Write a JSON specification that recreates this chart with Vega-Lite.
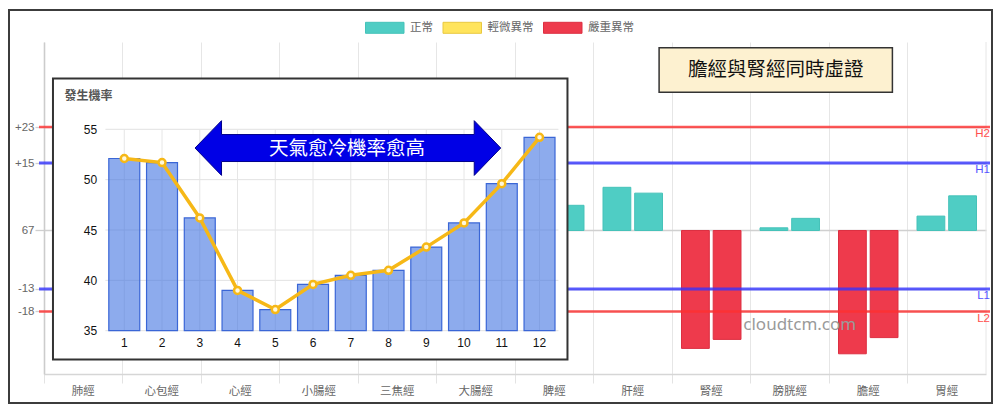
{
  "$schema": "https://vega.github.io/schema/vega-lite/v6.json",
  "width": 942,
  "height": 332,
  "autosize": {"type": "none"},
  "padding": {"left": 44, "top": 42, "right": 14, "bottom": 42},
  "background": "#ffffff",
  "config": {
    "view": {"stroke": null},
    "font": "Noto Sans CJK TC",
    "legend": {"padding": 0}
  },
  "datasets": {
    "bars": [
      {"meridian": "脾經", "side": "右", "value": 5.6, "status": "正常"},
      {"meridian": "肝經", "side": "左", "value": 9.6, "status": "正常"},
      {"meridian": "肝經", "side": "右", "value": 8.3, "status": "正常"},
      {"meridian": "腎經", "side": "左", "value": -26.2, "status": "嚴重異常"},
      {"meridian": "腎經", "side": "右", "value": -24.2, "status": "嚴重異常"},
      {"meridian": "膀胱經", "side": "左", "value": 0.6, "status": "正常"},
      {"meridian": "膀胱經", "side": "右", "value": 2.7, "status": "正常"},
      {"meridian": "膽經", "side": "左", "value": -27.4, "status": "嚴重異常"},
      {"meridian": "膽經", "side": "右", "value": -23.8, "status": "嚴重異常"},
      {"meridian": "胃經", "side": "左", "value": 3.2, "status": "正常"},
      {"meridian": "胃經", "side": "右", "value": 7.7, "status": "正常"}
    ],
    "lines": [
      {"line": "H2", "value": 23, "level": 2},
      {"line": "H1", "value": 15, "level": 1},
      {"line": "L1", "value": -13, "level": 1},
      {"line": "L2", "value": -18, "level": 2}
    ],
    "monthly": [
      {"month": "1", "rate": 52.1},
      {"month": "2", "rate": 51.7},
      {"month": "3", "rate": 46.2},
      {"month": "4", "rate": 39.0},
      {"month": "5", "rate": 37.1},
      {"month": "6", "rate": 39.6},
      {"month": "7", "rate": 40.5},
      {"month": "8", "rate": 41.0},
      {"month": "9", "rate": 43.3},
      {"month": "10", "rate": 45.7},
      {"month": "11", "rate": 49.6},
      {"month": "12", "rate": 54.2}
    ],
    "insetTicks": [
      {"rate": 35}, {"rate": 40}, {"rate": 45}, {"rate": 50}, {"rate": 55}
    ]
  },
  "layer": [
    {
      "data": {"values": [{"edge": "右"}]},
      "mark": {"type": "rule", "color": "#e6e6e6", "strokeWidth": 1, "xOffset": 39.25},
      "encoding": {
        "x": {"datum": "胃經", "axis": null, "scale": {"domain": ["肺經", "心包經", "心經", "小腸經", "三焦經", "大腸經", "脾經", "肝經", "腎經", "膀胱經", "膽經", "胃經"], "paddingInner": 0, "paddingOuter": 0}}
      }
    },
    {
      "data": {"name": "bars"},
      "mark": {"type": "bar", "strokeWidth": 1},
      "encoding": {
        "x": {
          "field": "meridian", "type": "nominal", "sort": null,
          "scale": {"domain": ["肺經", "心包經", "心經", "小腸經", "三焦經", "大腸經", "脾經", "肝經", "腎經", "膀胱經", "膽經", "胃經"], "paddingInner": 0, "paddingOuter": 0},
          "axis": {"orient": "bottom", "title": null, "bandPosition": 0, "grid": true, "gridColor": "#e6e6e6", "gridWidth": 1, "tickColor": "#e3e3e3", "tickSize": 9, "tickWidth": 1, "domainColor": "#d6d6d6", "domainWidth": 1.5, "labelColor": "#666666", "labelFontSize": 11.5, "labelPadding": 2, "labelAngle": 0, "labelFont": "Noto Sans CJK TC"}
        },
        "xOffset": {"field": "side", "type": "nominal", "scale": {"domain": ["左", "右"], "paddingInner": 0.123, "paddingOuter": 0.3}},
        "y": {
          "field": "value", "type": "quantitative",
          "scale": {"domain": [-31.89, 41.89], "nice": false, "zero": false},
          "axis": {"orient": "left", "title": null, "values": [23, 15, 0, -13, -18], "labelExpr": "datum.value > 0 ? '+' + datum.value : (datum.value == 0 ? '67' : '' + datum.value)", "grid": true, "gridColor": "#d0d0d0", "gridWidth": 1.3, "tickSize": 9, "tickColor": "#cfcfcf", "tickWidth": 1.3, "domainColor": "#cccccc", "domainWidth": 1.6, "labelPadding": 1, "labelColor": "#666666", "labelFontSize": 11.5, "labelFont": "Liberation Sans"}
        },
        "y2": {"datum": 0},
        "color": {
          "field": "status", "type": "nominal",
          "scale": {"domain": ["正常", "輕微異常", "嚴重異常"], "range": ["#4fcdc4", "#ffe45c", "#ee3a4c"]},
          "legend": {"orient": "none", "legendX": 321, "legendY": -25.7, "direction": "horizontal", "title": null, "symbolType": "M-1,-0.5H2.5V0.5H-1Z", "symbolSize": 484, "symbolStrokeWidth": 1, "labelFontSize": 11.5, "labelColor": "#666666", "labelOffset": 22, "columnPadding": 7.5, "labelFont": "Noto Sans CJK TC"}
        },
        "stroke": {
          "field": "status", "type": "nominal",
          "scale": {"domain": ["正常", "輕微異常", "嚴重異常"], "range": ["#45c2b9", "#e9c840", "#dc2f41"]},
          "legend": {"orient": "none", "legendX": 321, "legendY": -25.7, "direction": "horizontal", "title": null, "symbolType": "M-1,-0.5H2.5V0.5H-1Z", "symbolSize": 484, "symbolStrokeWidth": 1, "labelFontSize": 11.5, "labelColor": "#666666", "labelOffset": 22, "columnPadding": 7.5, "labelFont": "Noto Sans CJK TC"}
        }
      }
    },
    {
      "data": {"name": "lines"},
      "transform": [{"filter": "datum.level == 2"}],
      "mark": {"type": "rule", "color": "#ff3030", "strokeWidth": 2.5, "opacity": 0.8, "xOffset": -44.25, "x2Offset": 43.25},
      "encoding": {
        "x": {"datum": "肺經", "axis": null, "scale": {"domain": ["肺經", "心包經", "心經", "小腸經", "三焦經", "大腸經", "脾經", "肝經", "腎經", "膀胱經", "膽經", "胃經"], "paddingInner": 0, "paddingOuter": 0}},
        "x2": {"datum": "胃經"},
        "y": {"field": "value", "type": "quantitative", "axis": null, "scale": {"domain": [-31.89, 41.89], "nice": false, "zero": false}}
      }
    },
    {
      "data": {"name": "lines"},
      "transform": [{"filter": "datum.level == 1"}],
      "mark": {"type": "rule", "color": "#3333ff", "strokeWidth": 3, "opacity": 0.8, "xOffset": -44.25, "x2Offset": 43.25},
      "encoding": {
        "x": {"datum": "肺經", "axis": null, "scale": {"domain": ["肺經", "心包經", "心經", "小腸經", "三焦經", "大腸經", "脾經", "肝經", "腎經", "膀胱經", "膽經", "胃經"], "paddingInner": 0, "paddingOuter": 0}},
        "x2": {"datum": "胃經"},
        "y": {"field": "value", "type": "quantitative", "axis": null, "scale": {"domain": [-31.89, 41.89], "nice": false, "zero": false}}
      }
    },
    {
      "data": {"name": "lines"},
      "transform": [{"filter": "datum.level == 2"}],
      "mark": {"type": "text", "color": "#ff4d4d", "fontSize": 11.5, "font": "Liberation Sans", "align": "right", "baseline": "middle", "dx": 43.25, "dy": 7.3},
      "encoding": {
        "x": {"datum": "胃經", "axis": null, "scale": {"domain": ["肺經", "心包經", "心經", "小腸經", "三焦經", "大腸經", "脾經", "肝經", "腎經", "膀胱經", "膽經", "胃經"], "paddingInner": 0, "paddingOuter": 0}},
        "y": {"field": "value", "type": "quantitative", "axis": null, "scale": {"domain": [-31.89, 41.89], "nice": false, "zero": false}},
        "text": {"field": "line"}
      }
    },
    {
      "data": {"name": "lines"},
      "transform": [{"filter": "datum.level == 1"}],
      "mark": {"type": "text", "color": "#5555ff", "fontSize": 11.5, "font": "Liberation Sans", "align": "right", "baseline": "middle", "dx": 43.25, "dy": 7.3},
      "encoding": {
        "x": {"datum": "胃經", "axis": null, "scale": {"domain": ["肺經", "心包經", "心經", "小腸經", "三焦經", "大腸經", "脾經", "肝經", "腎經", "膀胱經", "膽經", "胃經"], "paddingInner": 0, "paddingOuter": 0}},
        "y": {"field": "value", "type": "quantitative", "axis": null, "scale": {"domain": [-31.89, 41.89], "nice": false, "zero": false}},
        "text": {"field": "line"}
      }
    },
    {
      "data": {"values": [{"note": "膽經與腎經同時虛證"}]},
      "mark": {"type": "point", "shape": "M-1,-0.1916H1V0.1916H-1Z", "size": 54429, "filled": true, "fill": "#fdf1d0", "stroke": "#333333", "strokeWidth": 1.5, "opacity": 1, "xOffset": -14},
      "encoding": {
        "x": {"datum": "膀胱經", "axis": null, "scale": {"domain": ["肺經", "心包經", "心經", "小腸經", "三焦經", "大腸經", "脾經", "肝經", "腎經", "膀胱經", "膽經", "胃經"], "paddingInner": 0, "paddingOuter": 0}},
        "y": {"datum": 35.67, "axis": null, "scale": {"domain": [-31.89, 41.89], "nice": false, "zero": false}}
      }
    },
    {
      "data": {"values": [{"note": "膽經與腎經同時虛證"}]},
      "mark": {"type": "text", "fontSize": 19.5, "color": "#111111", "align": "center", "baseline": "middle", "dx": -14, "font": "Noto Sans CJK TC"},
      "encoding": {
        "x": {"datum": "膀胱經", "axis": null, "scale": {"domain": ["肺經", "心包經", "心經", "小腸經", "三焦經", "大腸經", "脾經", "肝經", "腎經", "膀胱經", "膽經", "胃經"], "paddingInner": 0, "paddingOuter": 0}},
        "y": {"datum": 35.67, "axis": null, "scale": {"domain": [-31.89, 41.89], "nice": false, "zero": false}},
        "text": {"field": "note"}
      }
    },
    {
      "data": {"values": [{"mark": "cloudtcm.com"}]},
      "mark": {"type": "text", "fontSize": 17, "color": "#9a9a9a", "align": "center", "baseline": "middle", "dx": 10, "font": "Noto Sans"},
      "encoding": {
        "x": {"datum": "膀胱經", "axis": null, "scale": {"domain": ["肺經", "心包經", "心經", "小腸經", "三焦經", "大腸經", "脾經", "肝經", "腎經", "膀胱經", "膽經", "胃經"], "paddingInner": 0, "paddingOuter": 0}},
        "y": {"datum": -21, "axis": null, "scale": {"domain": [-31.89, 41.89], "nice": false, "zero": false}},
        "text": {"field": "mark"}
      }
    },
    {
      "data": {"values": [{"frame": "outer"}]},
      "mark": {"type": "point", "shape": "M-1,-0.3998H1V0.3998H-1Z", "size": 966289, "filled": false, "stroke": "#3c3c3c", "strokeWidth": 2, "opacity": 1, "xOffset": 24.75},
      "encoding": {
        "x": {"datum": "大腸經", "axis": null, "scale": {"domain": ["肺經", "心包經", "心經", "小腸經", "三焦經", "大腸經", "脾經", "肝經", "腎經", "膀胱經", "膽經", "胃經"], "paddingInner": 0, "paddingOuter": 0}},
        "y": {"datum": 5.33, "axis": null, "scale": {"domain": [-31.89, 41.89], "nice": false, "zero": false}}
      }
    },
    {
      "data": {"values": [{"frame": "inset"}]},
      "mark": {"type": "point", "shape": "M-1,-0.5462H1V0.5462H-1Z", "size": 264710, "filled": true, "fill": "#ffffff", "stroke": "#333333", "strokeWidth": 2, "opacity": 1, "xOffset": -2.8},
      "encoding": {
        "x": {"datum": "6", "type": "ordinal", "axis": null, "scale": {"domain": ["1", "2", "3", "4", "5", "6", "7", "8", "9", "10", "11", "12"], "range": [61.4, 514.4], "paddingInner": 0.18, "paddingOuter": 0.09}},
        "y": {"datum": 46.09, "axis": null, "scale": {"domain": [35, 55], "range": [288.7, 87.3], "nice": false, "zero": false}}
      }
    },
    {
      "data": {"name": "insetTicks"},
      "mark": {"type": "rule", "color": "#e2e2e2", "strokeWidth": 1, "xOffset": -18.9, "x2Offset": 18.9},
      "encoding": {
        "x": {"datum": "1", "type": "ordinal", "axis": null, "scale": {"domain": ["1", "2", "3", "4", "5", "6", "7", "8", "9", "10", "11", "12"], "range": [61.4, 514.4], "paddingInner": 0.18, "paddingOuter": 0.09}},
        "x2": {"datum": "12"},
        "y": {"field": "rate", "type": "quantitative", "axis": null, "scale": {"domain": [35, 55], "range": [288.7, 87.3], "nice": false, "zero": false}}
      }
    },
    {
      "data": {"name": "monthly"},
      "mark": {"type": "rule", "color": "#e6e6e6", "strokeWidth": 1},
      "encoding": {
        "x": {"field": "month", "type": "ordinal", "sort": null, "axis": null, "scale": {"domain": ["1", "2", "3", "4", "5", "6", "7", "8", "9", "10", "11", "12"], "range": [61.4, 514.4], "paddingInner": 0.18, "paddingOuter": 0.09}},
        "y": {"datum": 35, "axis": null, "scale": {"domain": [35, 55], "range": [288.7, 87.3], "nice": false, "zero": false}},
        "y2": {"datum": 55}
      }
    },
    {
      "data": {"name": "monthly"},
      "mark": {"type": "bar", "fill": "#3a6fe0", "fillOpacity": 0.58, "stroke": "#3a66d6", "strokeWidth": 1.2},
      "encoding": {
        "x": {
          "field": "month", "type": "ordinal", "sort": null,
          "scale": {"domain": ["1", "2", "3", "4", "5", "6", "7", "8", "9", "10", "11", "12"], "range": [61.4, 514.4], "paddingInner": 0.18, "paddingOuter": 0.09},
          "axis": {"orient": "bottom", "offset": -43.3, "title": null, "domain": false, "ticks": false, "tickSize": 0, "grid": false, "labelPadding": 7, "labelFontSize": 12, "labelColor": "#111111", "labelFont": "Liberation Sans", "labelAngle": 0, "zindex": 1}
        },
        "y": {
          "field": "rate", "type": "quantitative",
          "scale": {"domain": [35, 55], "range": [288.7, 87.3], "nice": false, "zero": false},
          "axis": {"orient": "left", "offset": -61.4, "values": [35, 40, 45, 50, 55], "domain": false, "ticks": false, "tickSize": 0, "grid": false, "labelPadding": 8.7, "labelFontSize": 12, "labelColor": "#111111", "labelFont": "Liberation Sans", "title": "發生機率", "titleAngle": 0, "titleAlign": "left", "titleBaseline": "middle", "titleX": -41.4, "titleY": 53, "titleFontSize": 12, "titleFontWeight": "bold", "titleColor": "#555555", "titleFont": "Noto Sans CJK TC", "zindex": 1}
        },
        "y2": {"datum": 35}
      }
    },
    {
      "data": {"name": "monthly"},
      "mark": {"type": "line", "color": "#f6b817", "strokeWidth": 3.5},
      "encoding": {
        "x": {"field": "month", "type": "ordinal", "sort": null, "axis": null, "scale": {"domain": ["1", "2", "3", "4", "5", "6", "7", "8", "9", "10", "11", "12"], "range": [61.4, 514.4], "paddingInner": 0.18, "paddingOuter": 0.09}},
        "y": {"field": "rate", "type": "quantitative", "axis": null, "scale": {"domain": [35, 55], "range": [288.7, 87.3], "nice": false, "zero": false}}
      }
    },
    {
      "data": {"name": "monthly"},
      "mark": {"type": "point", "shape": "circle", "filled": true, "fill": "#fff8dc", "stroke": "#f6b817", "strokeWidth": 2.5, "size": 49, "opacity": 1},
      "encoding": {
        "x": {"field": "month", "type": "ordinal", "sort": null, "axis": null, "scale": {"domain": ["1", "2", "3", "4", "5", "6", "7", "8", "9", "10", "11", "12"], "range": [61.4, 514.4], "paddingInner": 0.18, "paddingOuter": 0.09}},
        "y": {"field": "rate", "type": "quantitative", "axis": null, "scale": {"domain": [35, 55], "range": [288.7, 87.3], "nice": false, "zero": false}}
      }
    },
    {
      "data": {"values": [{"note": "天氣愈冷機率愈高"}]},
      "mark": {"type": "point", "shape": "M-1,0L-0.8266,-0.179L-0.8266,-0.0883L0.8266,-0.0883L0.8266,-0.179L1,0L0.8266,0.179L0.8266,0.0883L-0.8266,0.0883L-0.8266,0.179Z", "size": 93452, "filled": true, "fill": "#0000e6", "stroke": "#00008b", "strokeWidth": 1, "opacity": 1, "xOffset": -2.9},
      "encoding": {
        "x": {"datum": "7", "type": "ordinal", "axis": null, "scale": {"domain": ["1", "2", "3", "4", "5", "6", "7", "8", "9", "10", "11", "12"], "range": [61.4, 514.4], "paddingInner": 0.18, "paddingOuter": 0.09}},
        "y": {"datum": 53.14, "axis": null, "scale": {"domain": [35, 55], "range": [288.7, 87.3], "nice": false, "zero": false}}
      }
    },
    {
      "data": {"values": [{"note": "天氣愈冷機率愈高"}]},
      "mark": {"type": "text", "fontSize": 19.5, "color": "#ffffff", "align": "center", "baseline": "middle", "dx": -3.8, "font": "Noto Sans CJK TC"},
      "encoding": {
        "x": {"datum": "7", "type": "ordinal", "axis": null, "scale": {"domain": ["1", "2", "3", "4", "5", "6", "7", "8", "9", "10", "11", "12"], "range": [61.4, 514.4], "paddingInner": 0.18, "paddingOuter": 0.09}},
        "y": {"datum": 53.08, "axis": null, "scale": {"domain": [35, 55], "range": [288.7, 87.3], "nice": false, "zero": false}},
        "text": {"field": "note"}
      }
    }
  ],
  "resolve": {
    "scale": {"x": "independent", "y": "independent", "color": "independent", "stroke": "independent"},
    "axis": {"x": "independent", "y": "independent"}
  }
}
